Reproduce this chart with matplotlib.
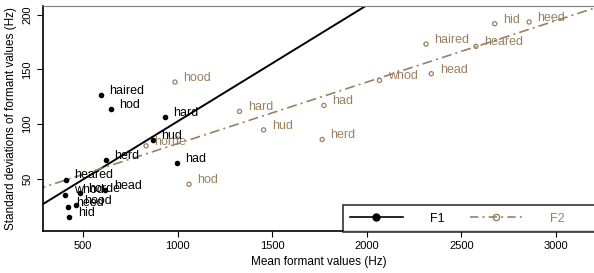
import numpy as np
import matplotlib
matplotlib.use('Agg')
import matplotlib.pyplot as plt
from matplotlib.lines import Line2D

plt.rcParams['font.family'] = ['Liberation Sans', 'DejaVu Sans']

# vowel words and their formant stats (mean Hz, sd Hz)
words_f1 = ['haired', 'hod', 'hard', 'hud', 'herd', 'had', 'heared', 'whod',
            'horde', 'head', 'heed', 'hood', 'hid']
f1_mean = [595, 646, 933, 868, 620, 995, 411, 406, 485, 618, 419, 463, 427]
f1_sd = [126.6, 113.8, 106.4, 85.4, 66.8, 64.4, 49.4, 35.7, 37.2, 39.4, 24.4, 26.0, 15.2]

words_f2 = ['hood', 'hard', 'hud', 'horde', 'hod', 'hid', 'heed', 'haired',
            'heared', 'head', 'whod', 'had', 'herd']
f2_mean = [986, 1327, 1454, 833, 1060, 2676, 2858, 2313, 2577, 2341, 2067, 1773, 1764]
f2_sd = [138.5, 111.7, 94.8, 80.2, 45.1, 191.8, 193.4, 173.2, 171.1, 146.1, 140.0, 117.1, 86.0]

brown = '#9a8062'

fig = plt.figure(figsize=(5.94, 2.73), dpi=100)
ax = fig.add_axes([0.0724, 0.154, 0.9276, 0.824])

ax.scatter(f1_mean, f1_sd, s=9, color='black', zorder=3)
ax.scatter(f2_mean, f2_sd, s=9, facecolors='none', edgecolors=brown, linewidths=0.9, zorder=3)

for w, x, y in zip(words_f1, f1_mean, f1_sd):
    ax.annotate(w, (x, y), xytext=(6, 3), textcoords='offset points',
                ha='left', va='center', fontsize=9, color='black')
for w, x, y in zip(words_f2, f2_mean, f2_sd):
    ax.annotate(w, (x, y), xytext=(6, 3), textcoords='offset points',
                ha='left', va='center', fontsize=9, color=brown)

# least squares lines
xs = np.array([250, 3300])
b1, a1 = np.polyfit(f1_mean, f1_sd, 1)
b2, a2 = np.polyfit(f2_mean, f2_sd, 1)
ax.plot(xs, a1 + b1 * xs, color='black', lw=1.4)
ax.plot(xs, a2 + b2 * xs, color=brown, lw=1.2, dashes=[6, 2.5, 1.2, 2.5])

ax.set_xlim(288, 3201)
ax.set_ylim(2.4, 208)
ax.set_xticks([500, 1000, 1500, 2000, 2500, 3000])
ax.set_yticks([50, 100, 150, 200])
ax.tick_params(labelsize=8, length=4, width=0.8)
for lab in ax.get_yticklabels():
    lab.set_rotation(90)
    lab.set_va('center')
ax.set_xlabel('Mean formant values (Hz)', fontsize=8.5, labelpad=3)
ax.set_ylabel('Standard deviations of formant values (Hz)', fontsize=8.5, labelpad=4)
ax.spines['right'].set_visible(False)
ax.spines['top'].set_color('#808080')
ax.spines['left'].set_linewidth(1.2)
ax.spines['bottom'].set_linewidth(1.2)

handles = [
    Line2D([0], [0], color='black', lw=1.2, marker='o', markersize=5),
    Line2D([0], [0], color=brown, lw=1.2, dashes=[5, 2.5, 1.2, 2.5], marker='o',
           markerfacecolor='none', markeredgecolor=brown, markersize=4.5),
]
# trailing spaces push the frame past the right edge, as in the original
leg = ax.legend(handles, ['F1', 'F2          '], loc='lower left', bbox_to_anchor=(0.544, -0.005),
                ncol=2, frameon=True, fancybox=False, fontsize=9, handlelength=4.2,
                handletextpad=2.2, columnspacing=2.0, borderpad=0.6,
                borderaxespad=0)
leg.get_frame().set_edgecolor('black')
leg.get_frame().set_linewidth(1.2)
for t, c in zip(leg.get_texts(), ['black', brown]):
    t.set_color(c)

fig.savefig('out.png', dpi=100)
